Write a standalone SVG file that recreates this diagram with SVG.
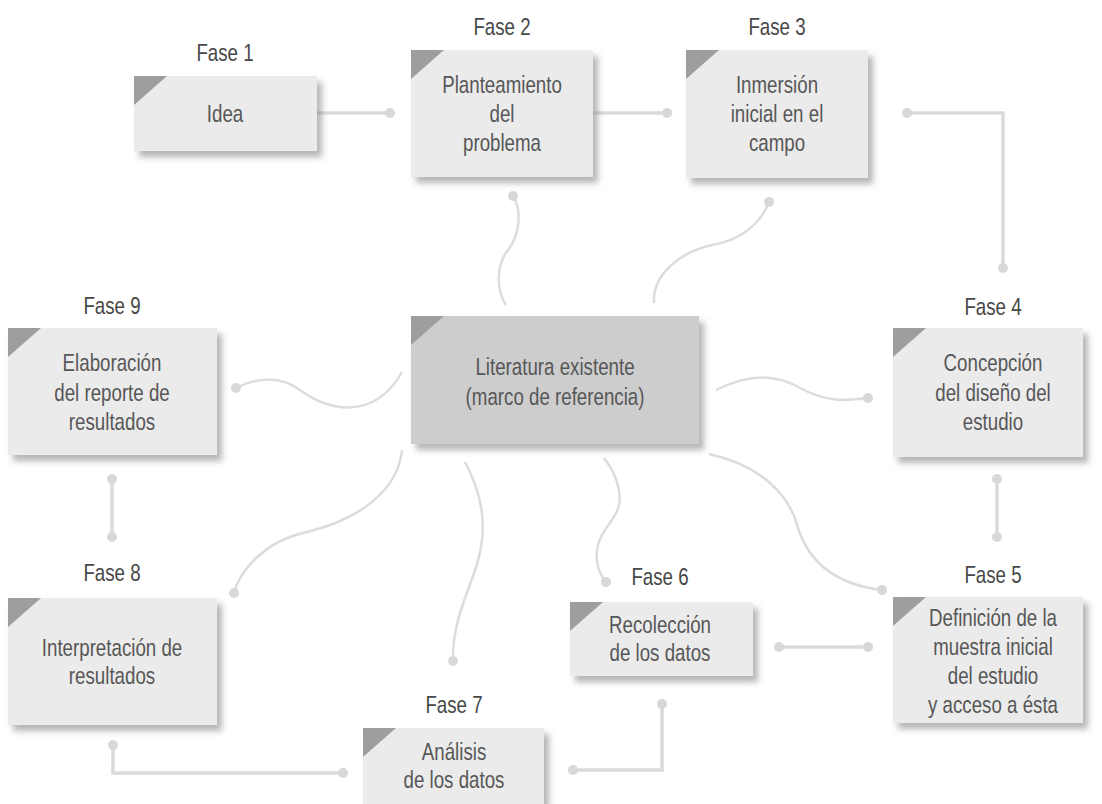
<svg xmlns="http://www.w3.org/2000/svg" width="1102" height="804" viewBox="0 0 1102 804">
<defs>
<filter id="sh" x="-10%" y="-10%" width="130%" height="140%">
<feDropShadow dx="5" dy="6" stdDeviation="3" flood-color="#7a7a7a" flood-opacity="0.55"/>
</filter>
<style>
.box{fill:#ebebeb;filter:url(#sh)}
.cbox{fill:#cdcdcd;filter:url(#sh)}
.tri{fill:#9e9e9e}
.t{font-family:"Liberation Sans",Arial,sans-serif;font-size:24px;fill:#575757;text-anchor:middle}
.lbl{font-family:"Liberation Sans",Arial,sans-serif;font-size:24px;fill:#484848;text-anchor:middle}
.ln{fill:none;stroke:#dadada;stroke-width:3.5}
.cv{fill:none;stroke:#dcdcdc;stroke-width:2.5}
.dot{fill:#d8d8d8}
</style>
</defs>
<rect width="1102" height="804" fill="#ffffff"/>

<g id="connectors">
<path class="ln" d="M317,113 H390"/>
<path class="ln" d="M593,113 H667"/>
<path class="ln" d="M907,113 H1003 V268"/>
<path class="ln" d="M997,479 V537"/>
<path class="ln" d="M779,647 H868"/>
<path class="ln" d="M662,704 V770 H573"/>
<path class="ln" d="M113,745 V773 H343"/>
<path class="ln" d="M112,479 V537"/>
<path class="cv" d="M513,196 C522,210 520,235 508,250 C496,265 496,290 506,305"/>
<path class="cv" d="M769,202 C760,225 740,240 712,245 C680,252 652,275 654,303"/>
<path class="cv" d="M236,388 C255,378 280,375 300,390 C330,412 375,420 402,372"/>
<path class="cv" d="M716,390 C740,378 770,370 800,388 C830,404 850,400 868,398"/>
<path class="cv" d="M402,450 C398,490 360,520 303,533 C265,542 240,570 234,593"/>
<path class="cv" d="M465,462 C480,490 485,515 482,540 C478,580 452,610 453,661"/>
<path class="cv" d="M604,458 C615,472 622,490 619,505 C616,520 602,528 598,545 C594,562 600,575 606,582"/>
<path class="cv" d="M709,454 C760,465 790,495 798,528 C810,565 840,585 882,590"/>
<g class="dot">
<circle cx="390" cy="113" r="5"/>
<circle cx="667" cy="113" r="5"/>
<circle cx="907" cy="113" r="5"/>
<circle cx="1003" cy="268" r="5"/>
<circle cx="997" cy="479" r="5"/>
<circle cx="997" cy="537" r="5"/>
<circle cx="779" cy="647" r="5"/>
<circle cx="868" cy="647" r="5"/>
<circle cx="662" cy="704" r="5"/>
<circle cx="573" cy="770" r="5"/>
<circle cx="113" cy="745" r="5"/>
<circle cx="343" cy="773" r="5"/>
<circle cx="112" cy="479" r="5"/>
<circle cx="112" cy="537" r="5"/>
<circle cx="513" cy="196" r="5"/>
<circle cx="769" cy="202" r="5"/>
<circle cx="236" cy="388" r="5"/>
<circle cx="868" cy="398" r="5"/>
<circle cx="234" cy="593" r="5"/>
<circle cx="453" cy="661" r="5"/>
<circle cx="606" cy="582" r="5"/>
<circle cx="882" cy="590" r="5"/>
</g>
</g>

<g id="fase1">
<rect class="box" x="134" y="76" width="183" height="75"/>
<polygon class="tri" points="134,76 167,76 134,105"/>
<g transform="translate(225,0) scale(0.78,1)">
<text class="lbl" x="0" y="61">Fase 1</text>
<text class="t" x="0" y="122">Idea</text>
</g>
</g>

<g id="fase2">
<rect class="box" x="411" y="50" width="182" height="127"/>
<polygon class="tri" points="411,50 444,50 411,79"/>
<g transform="translate(502,0) scale(0.78,1)">
<text class="lbl" x="0" y="35">Fase 2</text>
<text class="t" x="0" y="93">Planteamiento</text>
<text class="t" x="0" y="122">del</text>
<text class="t" x="0" y="151">problema</text>
</g>
</g>

<g id="fase3">
<rect class="box" x="686" y="50" width="182" height="128"/>
<polygon class="tri" points="686,50 719,50 686,79"/>
<g transform="translate(777,0) scale(0.78,1)">
<text class="lbl" x="0" y="35">Fase 3</text>
<text class="t" x="0" y="93">Inmersión</text>
<text class="t" x="0" y="122">inicial en el</text>
<text class="t" x="0" y="151">campo</text>
</g>
</g>

<g id="fase4">
<rect class="box" x="893" y="328" width="190" height="129"/>
<polygon class="tri" points="893,328 926,328 893,357"/>
<g transform="translate(993,0) scale(0.78,1)">
<text class="lbl" x="0" y="315">Fase 4</text>
<text class="t" x="0" y="371">Concepción</text>
<text class="t" x="0" y="401">del diseño del</text>
<text class="t" x="0" y="430">estudio</text>
</g>
</g>

<g id="fase5">
<rect class="box" x="893" y="597" width="190" height="126"/>
<polygon class="tri" points="893,597 926,597 893,626"/>
<g transform="translate(993,0) scale(0.78,1)">
<text class="lbl" x="0" y="583">Fase 5</text>
<text class="t" x="0" y="626">Definición de la</text>
<text class="t" x="0" y="655">muestra inicial</text>
<text class="t" x="0" y="684">del estudio</text>
<text class="t" x="0" y="713">y acceso a ésta</text>
</g>
</g>

<g id="fase6">
<rect class="box" x="570" y="602" width="183" height="74"/>
<polygon class="tri" points="570,602 603,602 570,631"/>
<g transform="translate(660,0) scale(0.78,1)">
<text class="lbl" x="0" y="585">Fase 6</text>
<text class="t" x="0" y="633">Recolección</text>
<text class="t" x="0" y="661">de los datos</text>
</g>
</g>

<g id="fase7">
<rect class="box" x="363" y="728" width="181" height="76"/>
<polygon class="tri" points="363,728 396,728 363,757"/>
<g transform="translate(454,0) scale(0.78,1)">
<text class="lbl" x="0" y="713">Fase 7</text>
<text class="t" x="0" y="760">Análisis</text>
<text class="t" x="0" y="788">de los datos</text>
</g>
</g>

<g id="fase8">
<rect class="box" x="8" y="598" width="209" height="127"/>
<polygon class="tri" points="8,598 41,598 8,627"/>
<g transform="translate(112,0) scale(0.78,1)">
<text class="lbl" x="0" y="581">Fase 8</text>
<text class="t" x="0" y="656">Interpretación de</text>
<text class="t" x="0" y="684">resultados</text>
</g>
</g>

<g id="fase9">
<rect class="box" x="8" y="328" width="209" height="127"/>
<polygon class="tri" points="8,328 41,328 8,357"/>
<g transform="translate(112,0) scale(0.78,1)">
<text class="lbl" x="0" y="314">Fase 9</text>
<text class="t" x="0" y="371">Elaboración</text>
<text class="t" x="0" y="401">del reporte de</text>
<text class="t" x="0" y="430">resultados</text>
</g>
</g>

<g id="literatura">
<rect class="cbox" x="411" y="316" width="288" height="128"/>
<polygon class="tri" points="411,316 444,316 411,345"/>
<g transform="translate(555,0) scale(0.78,1)">
<text class="t" x="0" y="375">Literatura existente</text>
<text class="t" x="0" y="405">(marco de referencia)</text>
</g>
</g>
</svg>
